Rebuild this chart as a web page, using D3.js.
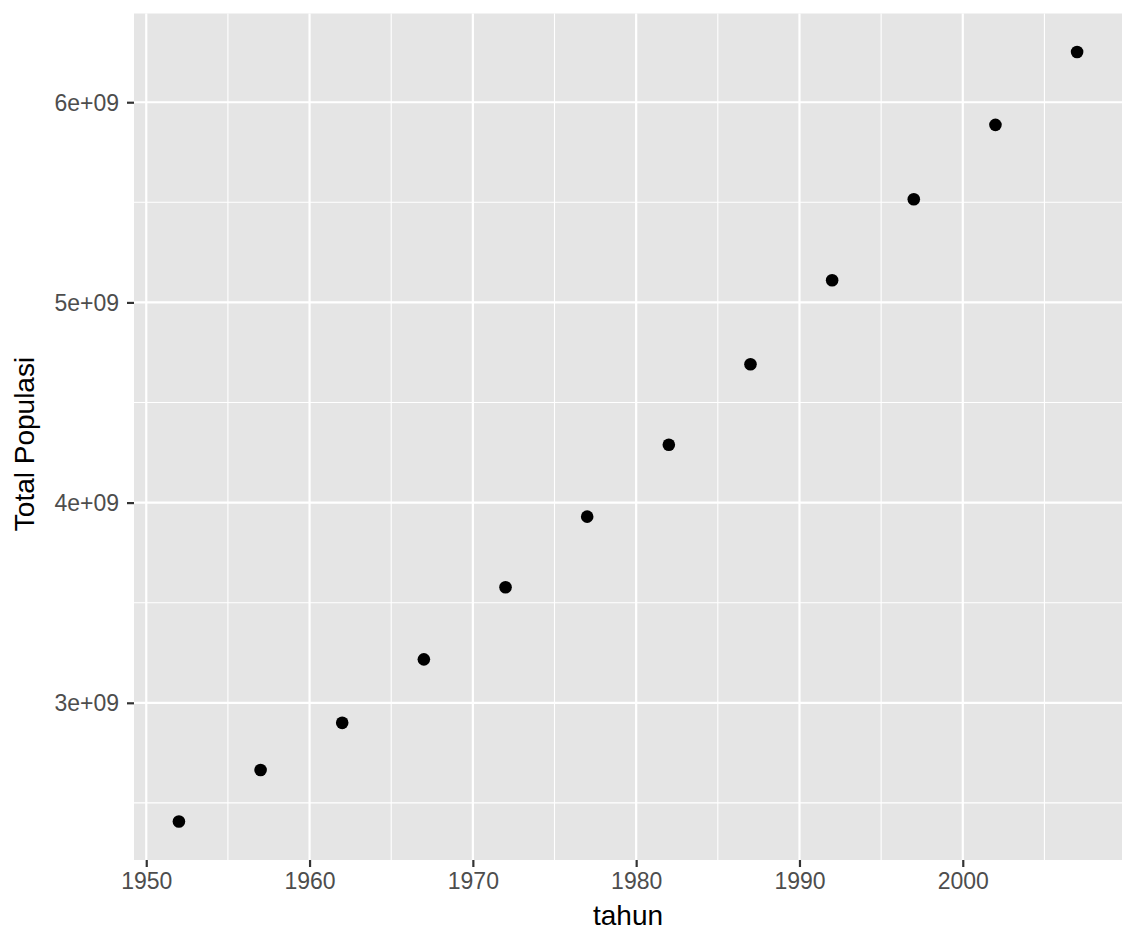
<!DOCTYPE html>
<html>
<head>
<meta charset="utf-8">
<script src="https://cdn.jsdelivr.net/npm/d3@7/dist/d3.min.js"></script>
<style>
  html, body { margin: 0; padding: 0; background: #fff; }
  svg { display: block; font-family: "Liberation Sans", Arial, sans-serif; }
</style>
</head>
<body>
<svg id="chart" width="1136" height="944"></svg>
<script>
// data (world population by year)
const years = [1952, 1957, 1962, 1967, 1972, 1977, 1982, 1987, 1992, 1997, 2002, 2007]
const totalPop = [2.407e9, 2.664e9, 2.900e9, 3.217e9, 3.577e9, 3.930e9, 4.289e9, 4.691e9, 5.111e9, 5.515e9, 5.887e9, 6.251e9]
const xTicks = [1950, 1960, 1970, 1980, 1990, 2000]
const xMinor = [1955, 1965, 1975, 1985, 1995, 2005]
const yTicks = [3e9, 4e9, 5e9, 6e9]
const yMinor = [2.5e9, 3.5e9, 4.5e9, 5.5e9]
const xTitle = 'tahun'
const yTitle = 'Total Populasi'

const svg = d3.select('#chart')
const panel = { left: 134, top: 13.5, right: 1122, bottom: 860 }

// ggplot-style 5% expansion
const expand = (lo, hi) => {
  const pad = (hi - lo) * 0.05
  return [lo - pad, hi + pad]
}

const x = d3.scaleLinear()
  .domain(expand(d3.min(years), d3.max(years)))
  .range([panel.left, panel.right])
const y = d3.scaleLinear()
  .domain(expand(d3.min(totalPop), d3.max(totalPop)))
  .range([panel.bottom, panel.top])

svg.append('rect')
  .attr('x', panel.left)
  .attr('y', panel.top)
  .attr('width', panel.right - panel.left)
  .attr('height', panel.bottom - panel.top)
  .attr('fill', '#e5e5e5')

const grid = svg.append('g').attr('stroke', '#fff').attr('fill', 'none')

// minor grid first, then major on top
grid.selectAll('.xminor').data(xMinor).enter()
  .append('line').attr('class', 'xminor')
  .attr('x1', d => x(d)).attr('x2', d => x(d))
  .attr('y1', panel.top).attr('y2', panel.bottom)
  .attr('stroke-width', 1.1)
grid.selectAll('.yminor').data(yMinor).enter()
  .append('line').attr('class', 'yminor')
  .attr('y1', d => y(d)).attr('y2', d => y(d))
  .attr('x1', panel.left).attr('x2', panel.right)
  .attr('stroke-width', 1.1)
grid.selectAll('.xmajor').data(xTicks).enter()
  .append('line').attr('class', 'xmajor')
  .attr('x1', d => x(d)).attr('x2', d => x(d))
  .attr('y1', panel.top).attr('y2', panel.bottom)
  .attr('stroke-width', 2.2)
grid.selectAll('.ymajor').data(yTicks).enter()
  .append('line').attr('class', 'ymajor')
  .attr('y1', d => y(d)).attr('y2', d => y(d))
  .attr('x1', panel.left).attr('x2', panel.right)
  .attr('stroke-width', 2.2)

// axes
const fmtY = d => `${d / 1e9}e+09`
const xAxis = svg.append('g')
  .attr('transform', `translate(0,${panel.bottom})`)
  .call(d3.axisBottom(x).tickValues(xTicks).tickSize(7).tickPadding(6).tickFormat(d3.format('d')))
const yAxis = svg.append('g')
  .attr('transform', `translate(${panel.left},0)`)
  .call(d3.axisLeft(y).tickValues(yTicks).tickSize(7).tickPadding(8).tickFormat(fmtY))

;[xAxis, yAxis].forEach(ax => {
  ax.select('.domain').remove()
  ax.selectAll('.tick line').attr('stroke', '#333').attr('stroke-width', 2.2)
  ax.selectAll('.tick text')
    .attr('fill', '#4d4d4d')
    .style('font-size', '23px')
    .style('font-family', '"Liberation Sans", Arial, sans-serif')
})
yAxis.selectAll('.tick text').attr('dy', '0.35em')

// points
svg.append('g').selectAll('circle')
  .data(years.map((yr, i) => ({ yr, pop: totalPop[i] })))
  .enter()
  .append('circle')
  .attr('cx', d => x(d.yr))
  .attr('cy', d => y(d.pop))
  .attr('r', 6.3)
  .attr('fill', '#000')

// axis titles
svg.append('text')
  .attr('x', (panel.left + panel.right) / 2)
  .attr('y', 925)
  .attr('text-anchor', 'middle')
  .style('font-size', '28px')
  .text(xTitle)

svg.append('text')
  .attr('transform', 'translate(34,444) rotate(-90)')
  .attr('text-anchor', 'middle')
  .style('font-size', '28px')
  .text(yTitle)
</script>
</body>
</html>
